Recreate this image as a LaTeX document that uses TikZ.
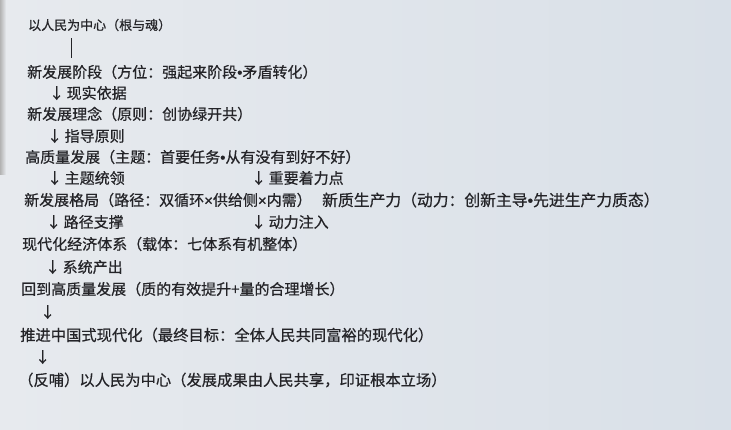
\documentclass[tikz,border=0pt]{standalone}
\usepackage{fontspec}
\setmainfont{Noto Sans CJK SC}[FakeBold=0.6]
\newfontfamily\signfont{Liberation Sans}[FakeBold=0.6]
\usepackage{tikz}

\definecolor{paper}{RGB}{231,234,238}
\definecolor{paperblue}{RGB}{217,224,232}
\definecolor{ink}{RGB}{36,36,40}

% half-width signs, as on the photo
\newcommand{\pt}{{\signfont\textbullet}}
\newcommand{\tm}{{\signfont ×}}

\tikzset{
	line/.style={anchor=west,inner sep=0pt,text=ink,font=\fontsize{15}{17}\selectfont},
	small/.style={line,font=\fontsize{13}{15}\selectfont},
	wide/.style={line,font=\fontsize{15.3}{17}\selectfont},
	step label/.style={line},
}

\begin{document}
\begin{tikzpicture}[x=1pt,y=-1pt]
	% background of the photo
	\useasboundingbox (0,0) rectangle (731,430);
	\shade[left color=paper,right color=paperblue] (0,0) rectangle (731,430);
	\shade[left color=gray!60,right color=paper] (0,0) rectangle (6,175);
	% the root
	\node[small] (root) at (28,25) {以人民为中心（根与魂）};
	\coordinate (bar) at (71,0);
	% the chain, top to bottom
	\node[line] (stage) at (27,72) {新发展阶段（方位：强起来阶段\pt 矛盾转化）};
	\node[step label] (basis) at (49,93) {↓\,现实依据};
	\node[line] (idea) at (27,114) {新发展理念（原则：创协绿开共）};
	\node[step label] (guide) at (47,136) {↓\,指导原则};
	\node[line] (quality) at (25,157) {高质量发展（主题：首要任务\pt 从有没有到好不好）};
	\node[step label] (theme) at (47,178) {↓\,主题统领};
	\node[step label] (focus) at (251,178) {↓\,重要着力点};
	\node[line] (pattern) at (24,200) {新发展格局（路径：双循环\tm 供给侧\tm 内需）};
	\node[line,font=\fontsize{15.8}{17}\selectfont] (force) at (322,200) {新质生产力（动力：创新主导\pt 先进生产力质态）};
	\node[step label] (path) at (46,222) {↓\,路径支撑};
	\node[step label] (drive) at (251,222) {↓\,动力注入};
	\node[line] (system) at (22,244) {现代化经济体系（载体：七体系有机整体）};
	\node[step label] (output) at (45,267) {↓\,系统产出};
	\node[line] (back) at (21,289) {回到高质量发展（质的有效提升+量的合理增长）};
	\node[step label] (down1) at (40,312) {↓};
	\node[wide] (modern) at (20,335) {推进中国式现代化（最终目标：全体人民共同富裕的现代化）};
	\node[step label] (down2) at (35,357) {↓};
	\node[wide] (feed) at (18,380) {（反哺）以人民为中心（发展成果由人民共享，印证根本立场）};
	% the bar under the root
	\draw[ink,semithick,shorten <=7pt,shorten >=7pt] (root.south -| bar) -- (stage.north -| bar);
\end{tikzpicture}
\end{document}
